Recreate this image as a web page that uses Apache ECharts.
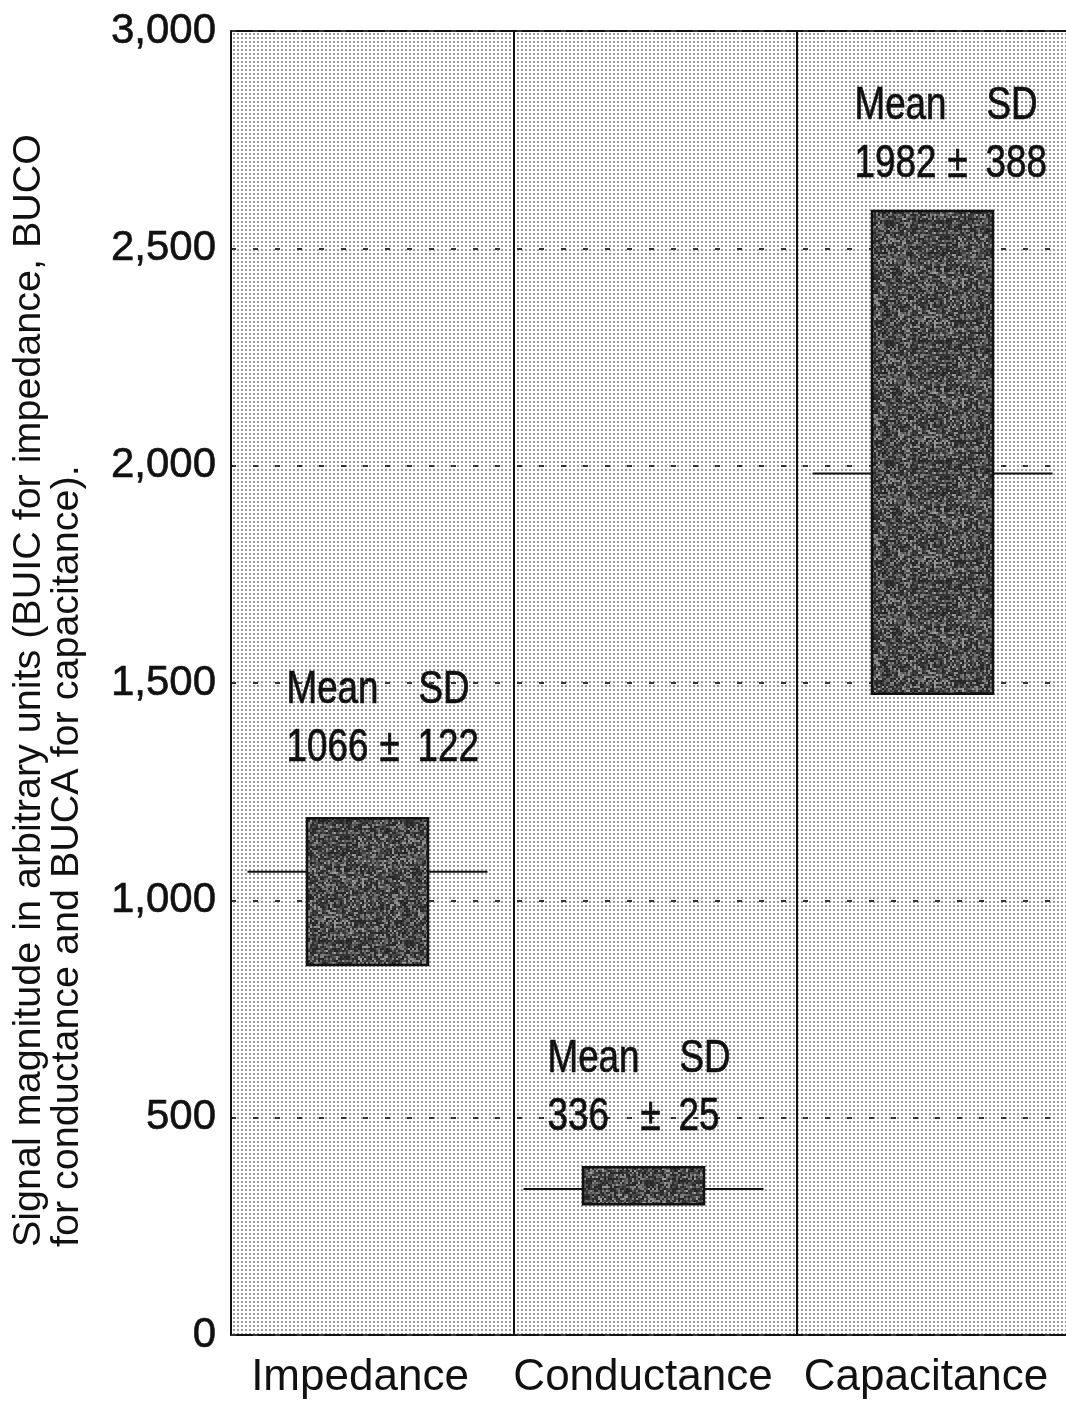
<!DOCTYPE html>
<html>
<head>
<meta charset="utf-8">
<script src="https://cdn.jsdelivr.net/npm/echarts@6/dist/echarts.min.js"></script>
<style>
  html, body { margin: 0; padding: 0; background: #fff; overflow: hidden; }
  #chart { width: 1066px; height: 1403px; }
</style>
</head>
<body>
<div id="chart"></div>
<script>
// Signal magnitude per measurement mode
const categories = ['Impedance', 'Conductance', 'Capacitance'];
const meanValues = [1066, 336, 1982];
const sdValues = [122, 25, 388];
const boxLow = [851, 301, 1475];
const boxHigh = [1189, 386, 2586];
const yTickValues = [0, 500, 1000, 1500, 2000, 2500, 3000];

// Drawing layout (pixels, relative to each category centre)
const layout = {
  boxShift: [-5, -12, -6],
  boxWidth: 121,
  whiskerHalf: 120,
  noteDx: [-86, -108, -84],
  noteDy: [-128, -108, -105],
  noteLineGap: 58,
  sdColumn: 132,
  pmColumn: 103,
  narrow: 0.8
};

const SANS = '"Liberation Sans", Arial, Helvetica, sans-serif';

// Stippled plot background: small grey dots on white
function makeDotPattern() {
  const c = document.createElement('canvas');
  c.width = 4; c.height = 4;
  const g = c.getContext('2d');
  g.fillStyle = '#ffffff';
  g.fillRect(0, 0, 4, 4);
  g.fillStyle = '#9a9a9a';
  g.fillRect(1, 1, 2, 2);
  return c;
}

// Grainy dark fill for the boxes
function makeGrainPattern() {
  const size = 120;
  const c = document.createElement('canvas');
  c.width = size; c.height = size;
  const g = c.getContext('2d');
  let seed = 1234567;
  const next = () => { seed = (seed * 1103515245 + 12345) & 0x7fffffff; return seed / 0x7fffffff; };
  for (let y = 0; y < size; y += 2) {
    for (let x = 0; x < size; x += 2) {
      const r = next();
      const v = Math.round(36 + Math.pow(r, 1.9) * 125);
      g.fillStyle = 'rgb(' + v + ',' + v + ',' + v + ')';
      g.fillRect(x, y, 2, 2);
    }
  }
  return c;
}

const dotPattern = { image: makeDotPattern(), repeat: 'repeat' };
const grainPattern = { image: makeGrainPattern(), repeat: 'repeat' };

const chart = echarts.init(document.getElementById('chart'), null, { renderer: 'canvas' });

const seriesData = categories.map((c, i) => [i, boxLow[i], boxHigh[i], meanValues[i], sdValues[i]]);

function renderItem(params, api) {
  const i = params.dataIndex;
  const idx = api.value(0);
  const top = api.coord([idx, api.value(2)]);
  const bottom = api.coord([idx, api.value(1)]);
  const mid = api.coord([idx, api.value(3)]);
  const catX = top[0];
  const cx = catX + layout.boxShift[i];
  const noteFont = '46px ' + SANS;
  const left = catX + layout.noteDx[i];
  const y1 = top[1] + layout.noteDy[i];
  const y2 = y1 + layout.noteLineGap;
  // condensed lettering for the Mean / SD notes
  const txt = (text, x, y, align) => ({
    type: 'text',
    x: x, y: y,
    scaleX: layout.narrow,
    style: {
      text: text, font: noteFont, fill: '#111',
      stroke: '#111', lineWidth: 0.7,
      align: align, verticalAlign: 'middle'
    }
  });
  return {
    type: 'group',
    children: [
      {
        type: 'line',
        shape: { x1: cx - layout.whiskerHalf, y1: mid[1], x2: cx + layout.whiskerHalf, y2: mid[1] },
        style: { stroke: '#111', lineWidth: 2 }
      },
      {
        type: 'rect',
        shape: { x: cx - layout.boxWidth / 2, y: top[1], width: layout.boxWidth, height: bottom[1] - top[1] },
        style: { fill: grainPattern, stroke: '#111', lineWidth: 2.5 }
      },
      txt('Mean', left, y1, 'left'),
      txt('SD', left + layout.sdColumn, y1, 'left'),
      txt(String(api.value(3)), left, y2, 'left'),
      txt('\u00B1', left + layout.pmColumn, y2, 'center'),
      txt(String(api.value(4)), left + layout.sdColumn - 1, y2, 'left')
    ]
  };
}

chart.setOption({
  animation: false,
  backgroundColor: '#ffffff',
  grid: {
    left: 231, top: 31, right: -14, height: 1304,
    outerBoundsMode: 'none',
    containLabel: false,
    show: true, borderColor: '#111', borderWidth: 2,
    backgroundColor: dotPattern
  },
  xAxis: {
    type: 'category',
    data: categories,
    boundaryGap: true,
    axisLine: { show: false },
    axisTick: { show: false },
    splitLine: { show: true, interval: 0, lineStyle: { color: '#111', width: 2 } },
    axisLabel: {
      interval: 0,
      fontFamily: SANS, fontSize: 44, color: '#111',
      margin: 21, padding: [0, 25, 0, 0]
    }
  },
  yAxis: {
    type: 'value',
    min: yTickValues[0],
    max: yTickValues[yTickValues.length - 1],
    interval: yTickValues[1] - yTickValues[0],
    axisLine: { show: false },
    axisTick: { show: false },
    axisLabel: {
      fontFamily: SANS, fontSize: 42, color: '#111', margin: 15,
      textBorderColor: '#111', textBorderWidth: 0.6,
      formatter: v => v.toLocaleString('en-US')
    },
    splitLine: { show: true, lineStyle: { color: '#333', width: 2, type: [5, 17] } }
  },
  graphic: [
    {
      type: 'text',
      x: 10, y: 1247,
      rotation: Math.PI / 2,
      style: {
        text: 'Signal magnitude in arbitrary units (BUIC for impedance, BUCO\nfor conductance and BUCA for capacitance).',
        font: '39.5px ' + SANS,
        fill: '#111',
        align: 'left',
        verticalAlign: 'top',
        lineHeight: 38
      }
    }
  ],
  series: [{
    type: 'custom',
    renderItem: renderItem,
    data: seriesData,
    encode: { x: 0, y: [1, 2, 3] },
    clip: false,
    z: 5
  }]
});
</script>
</body>
</html>
